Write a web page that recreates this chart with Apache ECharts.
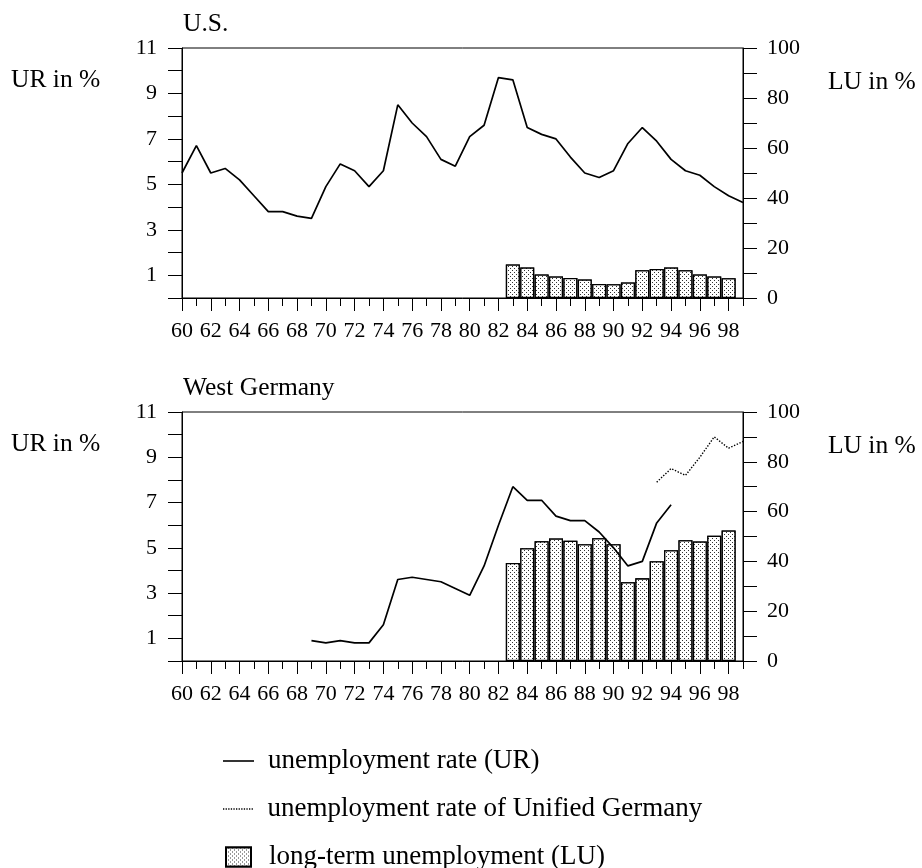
<!DOCTYPE html>
<html>
<head>
<meta charset="utf-8">
<script src="https://cdn.jsdelivr.net/npm/echarts@6/dist/echarts.min.js"></script>
<style>html,body{margin:0;padding:0;background:#fff}#c{width:922px;height:868px}</style>
</head>
<body>
<div id="c"></div>
<script>
// ---- data ----
const usYears = [60,61,62,63,64,65,66,67,68,69,70,71,72,73,74,75,76,77,78,79,80,81,82,83,84,85,86,87,88,89,90,91,92,93,94,95,96,97,98,99];
const usUR = [5.5,6.7,5.5,5.7,5.2,4.5,3.8,3.8,3.6,3.5,4.9,5.9,5.6,4.9,5.6,8.5,7.7,7.1,6.1,5.8,7.1,7.6,9.7,9.6,7.5,7.2,7.0,6.2,5.5,5.3,5.6,6.8,7.5,6.9,6.1,5.6,5.4,4.9,4.5,4.2];
const luYears = [83,84,85,86,87,88,89,90,91,92,93,94,95,96,97,98];
const usLU = [13.4,12.2,9.4,8.6,8.0,7.4,5.6,5.5,6.2,11.1,11.6,12.2,11.1,9.4,8.6,7.9];
const deYears = [69,70,71,72,73,74,75,76,77,78,79,80,81,82,83,84,85,86,87,88,89,90,91,92,93,94];
const deUR = [0.9,0.8,0.9,0.8,0.8,1.6,3.6,3.7,3.6,3.5,3.2,2.9,4.2,6.0,7.7,7.1,7.1,6.4,6.2,6.2,5.7,5.0,4.2,4.4,6.1,6.9];
const unifiedYears = [93,94,95,96,97,98,99];
const unifiedUR = [7.9,8.5,8.2,9.0,9.9,9.4,9.7];
const deLU = [39.4,45.3,48.1,49.2,48.3,46.9,49.3,46.9,31.6,33.2,40.1,44.5,48.5,48.0,50.3,52.4];
const majorYears = [60,62,64,66,68,70,72,74,76,78,80,82,84,86,88,90,92,94,96,98];
const panelTitles = ['U.S.', 'West Germany'];
const leftAxisName = 'UR in %';
const rightAxisName = 'LU in %';
const nameUR = 'unemployment rate (UR)';
const nameUnified = 'unemployment rate of Unified Germany';
const nameLU = 'long-term unemployment (LU)';

// ---- chart ----
const FONT = 'Liberation Serif';
const NUM = 22, TXT = 25.5, LEG = 27;
const pairs = (xs, ys) => xs.map((x, i) => [x, ys[i]]);
const grids = [
  {left: 182, top: 48, width: 561, height: 250},
  {left: 182, top: 412, width: 561, height: 249}
];
const black = '#000';
const xAxes = [], yAxes = [];
grids.forEach((g, gi) => {
  xAxes.push({type: 'value', gridIndex: gi, min: 60, max: 99, interval: 1, position: 'bottom',
    axisLine: {show: true, lineStyle: {color: black, width: 1}},
    axisTick: {show: true, length: 8, lineStyle: {color: black}},
    axisLabel: {show: false}, splitLine: {show: false}});
  xAxes.push({type: 'value', gridIndex: gi, min: 60, max: 99, interval: 1, position: 'bottom',
    axisLine: {show: false},
    axisTick: {show: true, length: 13, customValues: majorYears, lineStyle: {color: black}},
    axisLabel: {show: true, customValues: majorYears, margin: 22, color: black, fontFamily: FONT, fontSize: NUM},
    splitLine: {show: false}});
  yAxes.push({type: 'value', gridIndex: gi, min: 0, max: 11, interval: 1, position: 'left',
    axisLine: {show: true, lineStyle: {color: black}},
    axisTick: {show: true, length: 14, lineStyle: {color: black}},
    axisLabel: {margin: 25, color: black, fontFamily: FONT, fontSize: NUM,
      formatter: v => (v % 2 === 1 ? String(v) : '')},
    splitLine: {show: false}});
  yAxes.push({type: 'value', gridIndex: gi, min: 0, max: 100, interval: 10, position: 'right',
    axisLine: {show: true, lineStyle: {color: black}},
    axisTick: {show: true, length: 14, lineStyle: {color: black}},
    axisLabel: {margin: 24, color: black, fontFamily: FONT, fontSize: NUM,
      formatter: v => (v % 20 === 0 ? String(v) : '')},
    splitLine: {show: false}});
});

const decal = {
  symbol: 'rect', symbolSize: 1, color: '#333', backgroundColor: '#fff',
  dashArrayX: [[1, 3], [0, 2, 1, 1]], dashArrayY: [1, 1], rotation: 0
};
const barStyle = {color: '#fff', borderColor: black, borderWidth: 1.3, decal: decal};
const lineBase = {type: 'line', showSymbol: false, symbol: 'none', z: 5, animation: false};

const textStyle = {fontFamily: FONT, fontSize: TXT, fontWeight: 'normal', color: black};
const titles = [];
grids.forEach((g, gi) => {
  titles.push({text: panelTitles[gi], left: 183, top: g.top - 37, padding: 0, textStyle});
  titles.push({text: leftAxisName, left: 11, top: g.top + 19, padding: 0, textStyle});
  titles.push({text: rightAxisName, left: 828, top: g.top + 21, padding: 0, textStyle});
});

// dotted legend icon (row of small squares)
let dotPath = 'path://';
for (let x = 0; x < 30; x += 2.6) dotPath += 'M' + x.toFixed(1) + ',0h1.3v1.3h-1.3z';
const legTxt = (padL) => ({fontFamily: FONT, fontSize: LEG, color: black, lineHeight: 30, padding: [0, 0, 0, padL]});
const legends = [
  {left: 223, top: 746, itemWidth: 31, itemHeight: 1.6, icon: 'rect', textStyle: legTxt(9), data: [nameUR]},
  {left: 223, top: 794, itemWidth: 31, itemHeight: 1.3, icon: dotPath, textStyle: legTxt(9), data: [nameUnified]},
  {left: 225, top: 842, itemWidth: 25, itemHeight: 19, icon: 'rect', textStyle: legTxt(13), data: [nameLU]}
].map(l => Object.assign({orient: 'horizontal', padding: 0, selectedMode: false}, l));

const option = {
  animation: false,
  backgroundColor: '#fff',
  title: titles,
  grid: grids.map(g => Object.assign({show: true, borderColor: black, borderWidth: 1, backgroundColor: 'transparent'}, g)),
  xAxis: xAxes,
  yAxis: yAxes,
  legend: legends,
  series: [
    Object.assign({}, lineBase, {name: nameUR, xAxisIndex: 0, yAxisIndex: 0, data: pairs(usYears, usUR),
      lineStyle: {color: black, width: 1.7}, itemStyle: {color: black}}),
    {type: 'bar', name: nameLU, xAxisIndex: 0, yAxisIndex: 1, barWidth: 14, z: 2, data: pairs(luYears, usLU), itemStyle: barStyle},
    Object.assign({}, lineBase, {name: nameUR, xAxisIndex: 2, yAxisIndex: 2, data: pairs(deYears, deUR),
      lineStyle: {color: black, width: 1.7}, itemStyle: {color: black}}),
    Object.assign({}, lineBase, {name: nameUnified, xAxisIndex: 2, yAxisIndex: 2, data: pairs(unifiedYears, unifiedUR),
      lineStyle: {color: black, width: 1.4, type: [1.4, 1.6]}, itemStyle: {color: black}}),
    {type: 'bar', name: nameLU, xAxisIndex: 2, yAxisIndex: 3, barWidth: 14, z: 2, data: pairs(luYears, deLU), itemStyle: barStyle}
  ]
};
const chart = echarts.init(document.getElementById('c'), null, {renderer: 'canvas'});
chart.setOption(option);
</script>
</body>
</html>
